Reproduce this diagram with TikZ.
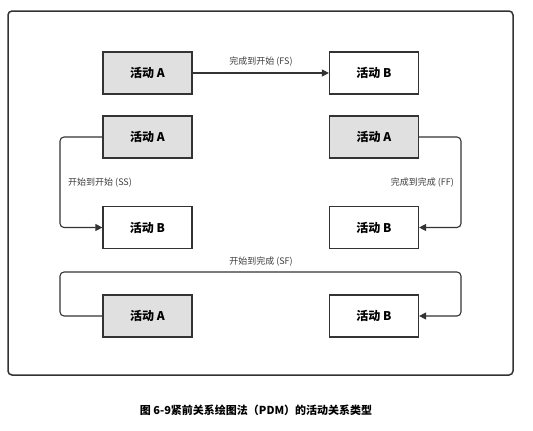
\documentclass[tikz,border=0pt]{standalone}
\usepackage{fontspec}
\setmainfont{Noto Sans CJK SC}
\usetikzlibrary{arrows.meta,calc}
\definecolor{boxgray}{HTML}{E0E0E0}
\definecolor{linegray}{HTML}{333333}
\definecolor{labelgray}{HTML}{3C3C3C}
\tikzset{
  actbox/.style={draw=linegray, line width=1.2pt, minimum width=89pt, minimum height=42pt, inner sep=0pt, font=\fontsize{12}{14}\selectfont\bfseries},
  actA/.style={actbox, fill=boxgray},
  actB/.style={actbox, fill=white},
  conn/.style={draw=linegray, line width=1.1pt, rounded corners=4pt, -{Triangle[length=7pt,width=7pt]}},
  rel/.style={font=\fontsize{9}{11}\selectfont, text=labelgray, inner sep=1pt}
}
\begin{document}
\begin{tikzpicture}[x=1pt,y=-1pt]
\useasboundingbox (0,0) rectangle (533,431);
\draw[draw=linegray, line width=1.5pt, rounded corners=4pt] (8,11) rectangle (513,375);
\coordinate (L) at (60,0);
\coordinate (R) at (461,0);
\coordinate (T) at (0,272);
% FS
\node[actA] (a1) at (147.5,73) {活动 A};
\node[actB] (b1) at (374,73) {活动 B};
\draw[conn] (a1.east) -- (b1.west);
\node[rel] (lfs) at (261,62) {完成到开始 (FS)};
% SS
\node[actA] (a2) at (147.5,137) {活动 A};
\node[actB] (b2) at (147.5,227.5) {活动 B};
\draw[conn] (a2.west) -- (a2.west -| L) -- (b2.west -| L) -- (b2.west);
\node[rel, anchor=west] (lss) at (67,183) {开始到开始 (SS)};
% FF
\node[actA] (a3) at (374,137) {活动 A};
\node[actB] (b3) at (374,227.5) {活动 B};
\draw[conn] (a3.east) -- (a3.east -| R) -- (b3.east -| R) -- (b3.east);
\node[rel, anchor=east] (lff) at (455,183) {完成到完成 (FF)};
% SF
\node[actA] (a4) at (147.5,316) {活动 A};
\node[actB] (b4) at (374,316) {活动 B};
\draw[conn] (a4.west) -- (a4.west -| L) -- (L |- T) -- (R |- T) -- (b4.east -| R) -- (b4.east);
\node[rel] (lsf) at (261,262) {开始到完成 (SF)};
% caption
\node[font=\fontsize{11}{13}\selectfont\bfseries] (cap) at (256,410) {图 6-9紧前关系绘图法（PDM）的活动关系类型};
\end{tikzpicture}
\end{document}
